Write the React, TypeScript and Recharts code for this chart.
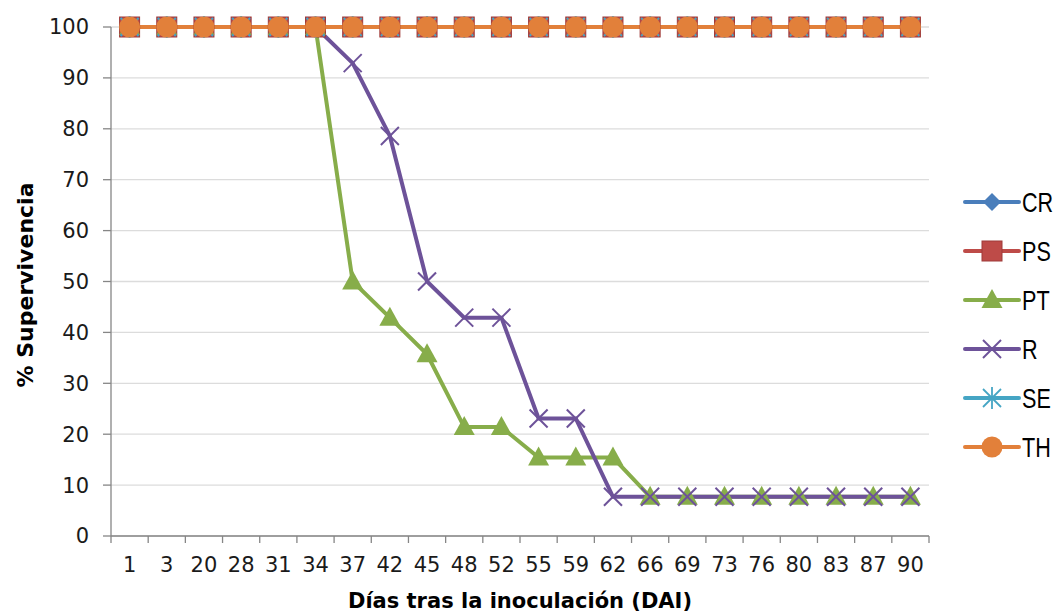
import { LineChart, Line, XAxis, YAxis, CartesianGrid } from "recharts";

const days = ["1", "3", "20", "28", "31", "34", "37", "42", "45", "48", "52", "55", "59", "62", "66", "69", "73", "76", "80", "83", "87", "90"];
const crValues = [100, 100, 100, 100, 100, 100, 100, 100, 100, 100, 100, 100, 100, 100, 100, 100, 100, 100, 100, 100, 100, 100];
const psValues = [100, 100, 100, 100, 100, 100, 100, 100, 100, 100, 100, 100, 100, 100, 100, 100, 100, 100, 100, 100, 100, 100];
const ptValues = [100, 100, 100, 100, 100, 100, 50, 42.9, 35.7, 21.4, 21.4, 15.4, 15.4, 15.4, 7.7, 7.7, 7.7, 7.7, 7.7, 7.7, 7.7, 7.7];
const rValues = [100, 100, 100, 100, 100, 100, 92.9, 78.6, 50, 42.9, 42.9, 23.1, 23.1, 7.7, 7.7, 7.7, 7.7, 7.7, 7.7, 7.7, 7.7, 7.7];
const seValues = [100, 100, 100, 100, 100, 100, 100, 100, 100, 100, 100, 100, 100, 100, 100, 100, 100, 100, 100, 100, 100, 100];
const thValues = [100, 100, 100, 100, 100, 100, 100, 100, 100, 100, 100, 100, 100, 100, 100, 100, 100, 100, 100, 100, 100, 100];
const yTicks = [0, 10, 20, 30, 40, 50, 60, 70, 80, 90, 100];

const series = [
  { key: "CR", color: "#4A7EBB", shape: "diamond" },
  { key: "PS", color: "#BE4B48", shape: "square" },
  { key: "PT", color: "#87AD4A", shape: "triangle" },
  { key: "R", color: "#6D5299", shape: "x" },
  { key: "SE", color: "#45A5C4", shape: "star" },
  { key: "TH", color: "#E2803A", shape: "circle" },
];

const data = days.map((day, i) => ({
  day,
  CR: crValues[i],
  PS: psValues[i],
  PT: ptValues[i],
  R: rValues[i],
  SE: seValues[i],
  TH: thValues[i],
}));

const W = 1048;
const H = 606;
const M = { top: 19, right: 127, left: 0, bottom: 0 };
const Y_W = 103;
const PLOT_W = W - M.right - Y_W;
const BAND = PLOT_W / days.length;
const TICK = 7;
const FONT = "'DejaVu Sans', sans-serif";

function marker(shape: string, color: string, cx: number, cy: number, key?: any) {
  if (shape === "diamond")
    return <polygon key={key} points={`${cx},${cy - 9} ${cx + 9},${cy} ${cx},${cy + 9} ${cx - 9},${cy}`} fill={color} />;
  if (shape === "square")
    return <rect key={key} x={cx - 10} y={cy - 10} width={20} height={20} fill={color} stroke="#9E3B38" strokeWidth={1} />;
  if (shape === "triangle")
    return <polygon key={key} points={`${cx},${cy - 11} ${cx + 10.5},${cy + 8} ${cx - 10.5},${cy + 8}`} fill={color} />;
  if (shape === "x")
    return (
      <g key={key} stroke={color} strokeWidth={2}>
        <line x1={cx - 9} y1={cy - 9} x2={cx + 9} y2={cy + 9} />
        <line x1={cx - 9} y1={cy + 9} x2={cx + 9} y2={cy - 9} />
      </g>
    );
  if (shape === "star")
    return (
      <g key={key} stroke={color} strokeWidth={1.8}>
        <line x1={cx - 9} y1={cy - 9} x2={cx + 9} y2={cy + 9} />
        <line x1={cx - 9} y1={cy + 9} x2={cx + 9} y2={cy - 9} />
        <line x1={cx} y1={cy - 11} x2={cx} y2={cy + 11} />
      </g>
    );
  return <circle key={key} cx={cx} cy={cy} r={10.5} fill={color} />;
}

const XTick = (props: any) => {
  const { x, y, payload, index } = props;
  const axisY = y - TICK;
  const half = BAND / 2;
  return (
    <g>
      <line x1={x - half} x2={x - half} y1={axisY} y2={axisY + TICK} stroke="#868686" strokeWidth={1.3} />
      {index === days.length - 1 && (
        <line x1={x + half} x2={x + half} y1={axisY} y2={axisY + TICK} stroke="#868686" strokeWidth={1.3} />
      )}
      <text x={x} y={axisY + 36} textAnchor="middle" fontFamily={FONT} fontSize={21} fill="#1a1a1a">
        {payload.value}
      </text>
    </g>
  );
};

export default function App() {
  return (
    <div style={{ position: "relative", width: W, height: H }}>
      <LineChart width={W} height={H} data={data} margin={M}>
        <CartesianGrid vertical={false} stroke="#DCDCDC" strokeWidth={1.3} />
        <XAxis
          dataKey="day"
          scale="band"
          interval={0}
          height={78}
          tickSize={TICK}
          tickMargin={0}
          tickLine={false}
          axisLine={{ stroke: "#868686", strokeWidth: 1.3 }}
          tick={<XTick />}
          label={{
            content: () => (
              <text x={Y_W + PLOT_W / 2} y={600} textAnchor="middle" fontFamily={FONT} fontWeight="bold" fontSize={21} fill="#000">
                Días tras la inoculación (DAI)
              </text>
            ),
          }}
        />
        <XAxis xAxisId="top" dataKey="day" scale="band" orientation="top" height={0} tick={false} tickLine={false} axisLine={{ stroke: "#595959", strokeWidth: 1.5 }} />
        <YAxis
          domain={[0, 100]}
          ticks={yTicks}
          width={Y_W}
          tickSize={8}
          tickMargin={14}
          interval={0}
          axisLine={{ stroke: "#868686", strokeWidth: 1.3 }}
          tickLine={{ stroke: "#868686", strokeWidth: 1.3 }}
          tick={{ fontFamily: FONT, fontSize: 21, fill: "#1a1a1a" }}
          label={{
            content: () => (
              <text x={25} y={277} transform="rotate(-90 25 277)" textAnchor="middle" fontFamily={FONT} fontWeight="bold" fontSize={22} fill="#000">
                % Supervivencia
              </text>
            ),
          }}
        />
        <YAxis yAxisId="right" orientation="right" width={0} tick={false} tickLine={false} axisLine={{ stroke: "#595959", strokeWidth: 1.5 }} />
        {series.map((s) => (
          <Line
            key={s.key}
            dataKey={s.key}
            stroke={s.color}
            strokeWidth={4}
            isAnimationActive={false}
            dot={(p: any) => marker(s.shape, s.color, p.cx, p.cy, `${s.key}-${p.index}`)}
            activeDot={false}
          />
        ))}
      </LineChart>
      <svg style={{ position: "absolute", left: 951, top: 170, overflow: "visible" }} width={95} height={300}>
        {series.map((s, i) => {
          const cy = 24 + i * 49;
          return (
            <g key={s.key}>
              <line x1={6} x2={60} y1={cy} y2={cy} stroke={s.color} strokeWidth={4} strokeLinecap="round" />
              {marker(s.shape, s.color, 33, cy)}
              <text
                transform={`translate(63 ${cy}) scale(0.8 1)`}
                dy="0.36em"
                fontFamily="'Liberation Sans', Arial, sans-serif"
                fontSize={27}
                fill="#000"
              >
                {s.key}
              </text>
            </g>
          );
        })}
      </svg>
    </div>
  );
}
